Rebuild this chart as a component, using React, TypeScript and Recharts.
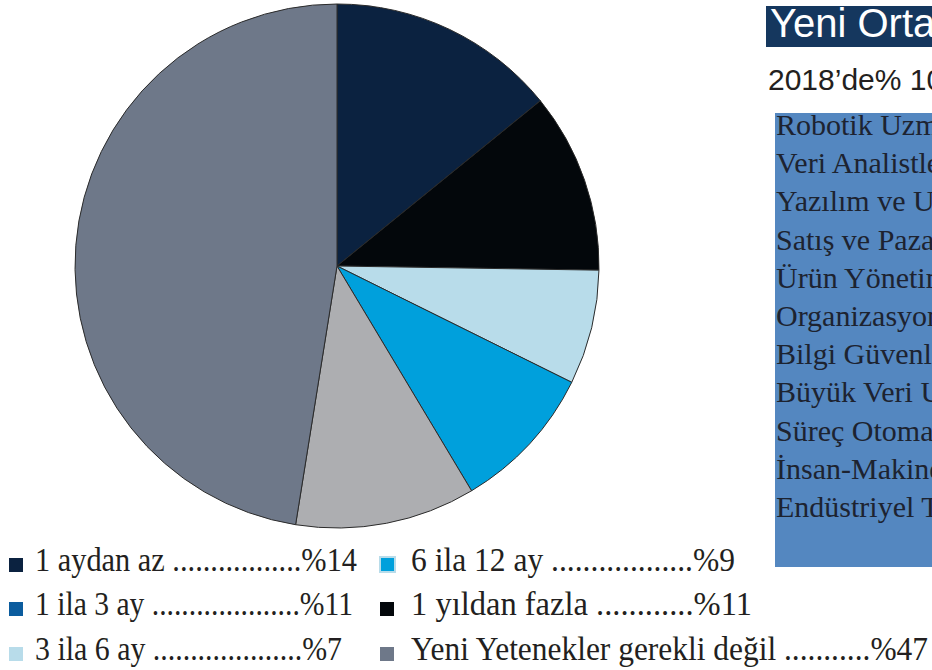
import React from 'react';
import { PieChart, Pie, Cell, Legend } from 'recharts';

// Pie slices in drawing order (clockwise from 12 o'clock)
const categories = ['1 aydan az', '1 yıldan fazla', '3 ila 6 ay', '6 ila 12 ay', '1 ila 3 ay', 'Yeni Yetenekler gerekli değil'];
const values = [14, 11, 7, 9, 11, 47];
const sliceColors = ['#0b2240', '#03070b', '#b8dcea', '#00a0dc', '#adaeb1', '#6e7889'];

// Legend
const legendLabels = ['1 aydan az', '1 ila 3 ay', '3 ila 6 ay', '6 ila 12 ay', '1 yıldan fazla', 'Yeni Yetenekler gerekli değil'];
const legendValues = ['%14', '%11', '%7', '%9', '%11', '%47'];
const legendColors = ['#0b2240', '#0b5c9e', '#b8dcea', '#00a0dc', '#03070b', '#6e7889'];
const legendDots = [17, 20, 20, 18, 12, 11];

// Side panel
const panelTitle = 'Yeni Ortaya Çıkan Roller';
const panelSubtitle = '2018’de% 10 → 2022’de% 27';
const roles = [
  'Robotik Uzmanları ve Mühendisleri',
  'Veri Analistleri ve Bilim İnsanları',
  'Yazılım ve Uygulama Geliştiricileri',
  'Satış ve Pazarlama Profesyonelleri',
  'Ürün Yönetimi Uzmanları',
  'Organizasyonel Gelişim Uzmanları',
  'Bilgi Güvenliği Analistleri',
  'Büyük Veri Uzmanları',
  'Süreç Otomasyonu Uzmanları',
  'İnsan-Makine Etkileşimi Tasarımcıları',
  'Endüstriyel Tasarımcılar',
];

const data = categories.map((name, i) => ({ name, value: values[i] }));

const W = 932;
const H = 670;

// layout
const colSquareX = [9, 380];
const colTextX = [35, 411];
const rowBase = [571, 615, 660];
const entryEnd = [357, 353, 342, 735, 752, 928];

const serif = '"Liberation Serif", "Times New Roman", serif';
const sans = '"Liberation Sans", Arial, sans-serif';

const Overlay = () => (
  <svg width={W} height={H} style={{ position: 'absolute', left: 0, top: 0 }}>
    {legendLabels.map((label, i) => {
      const col = i < 3 ? 0 : 1;
      const row = i % 3;
      const base = rowBase[row];
      const sx = colSquareX[col];
      const tx = colTextX[col];
      const str = `${label} ${'.'.repeat(legendDots[i])}${legendValues[i]}`;
      const isBright = i === 3;
      return (
        <g key={label}>
          {isBright ? (
            <rect x={sx} y={base - 14} width={15} height={15} fill={legendColors[i]} stroke="#b8dcea" strokeWidth={2} />
          ) : (
            <rect x={sx} y={base - 13} width={14} height={14} fill={legendColors[i]} />
          )}
          <text
            x={tx}
            y={base}
            fontFamily={serif}
            fontSize={33}
            fill="#231f20"
            textLength={entryEnd[i] - tx}
            lengthAdjust="spacingAndGlyphs"
          >
            {str}
          </text>
        </g>
      );
    })}
    <rect x={766} y={6} width={200} height={41} fill="#15375e" />
    <text x={770} y={37} fontFamily={sans} fontSize={40} fill="#ffffff">{panelTitle}</text>
    <text x={768} y={90} fontFamily={sans} fontSize={30} fill="#231f20">{panelSubtitle}</text>
    <rect x={775} y={113} width={200} height={454} fill="#5487c0" />
    {roles.map((r, i) => (
      <text key={r} x={776} y={135 + i * 38.2} fontFamily={serif} fontSize={30} fill="#1d2330">{r}</text>
    ))}
  </svg>
);

export default function App() {
  return (
    <div style={{ position: 'absolute', left: 0, top: 0, width: W, height: H, overflow: 'hidden', background: '#fff' }}>
      <PieChart width={W} height={H} margin={{ top: 0, right: 0, bottom: 0, left: 0 }}>
        <Pie
          data={data}
          dataKey="value"
          nameKey="name"
          cx={337}
          cy={266}
          outerRadius={262}
          innerRadius={0}
          startAngle={90}
          endAngle={-270}
          stroke="#2b2b2b"
          strokeWidth={1}
          isAnimationActive={false}
        >
          {data.map((d, i) => (
            <Cell key={d.name} fill={sliceColors[i]} />
          ))}
        </Pie>
        <Legend
          content={() => <Overlay />}
          wrapperStyle={{ position: 'absolute', left: 0, top: 0, width: W, height: H, pointerEvents: 'none' }}
        />
      </PieChart>
    </div>
  );
}
